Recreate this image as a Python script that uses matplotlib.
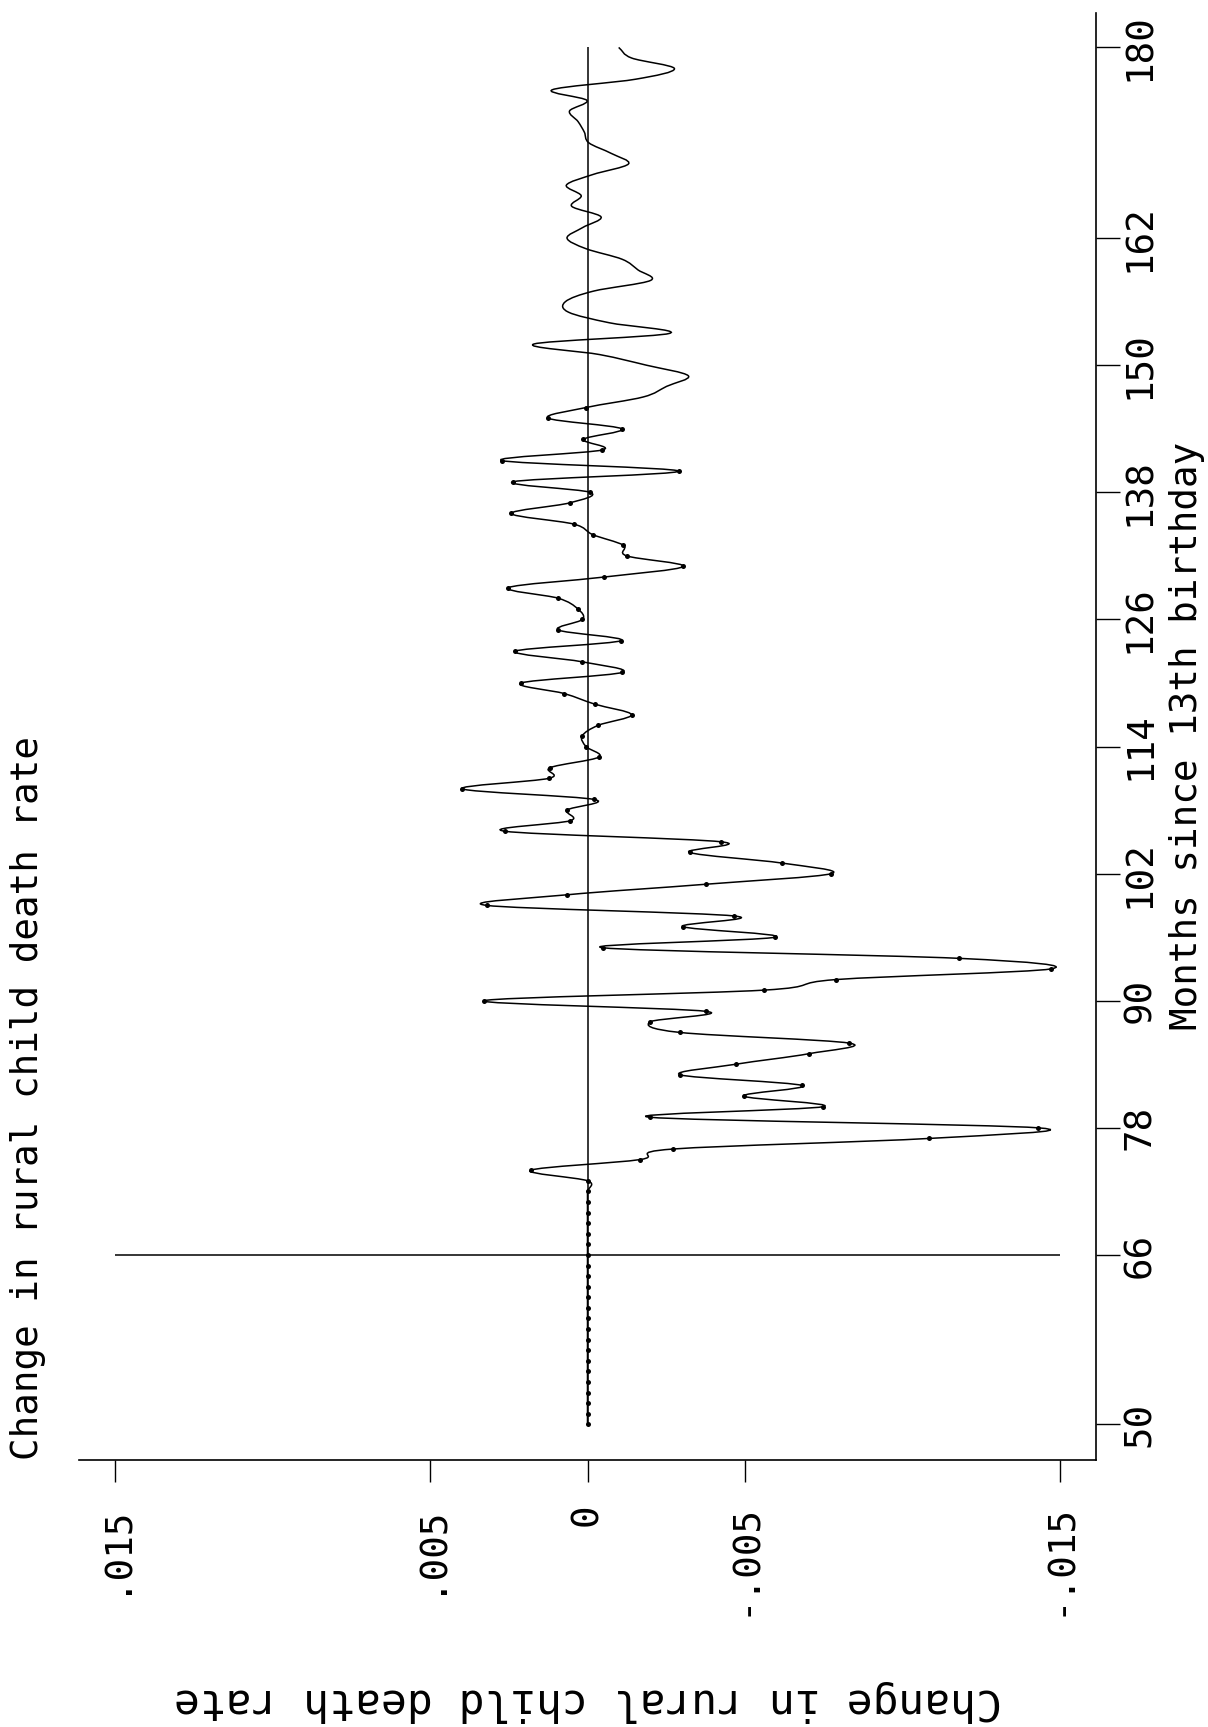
import numpy as np
import matplotlib
matplotlib.use("Agg")
import matplotlib.pyplot as plt
from matplotlib.path import Path
from matplotlib.patches import PathPatch

plt.rcParams['font.family'] = ['DejaVu Sans Mono', 'DejaVu Sans']

# months since 13th birthday, one value per month
months = list(range(50, 181))
rate = [
    # 50-59
    0, 0, 0, 0, 0, 0, 0, 0, 0, 0,
    # 60-69
    0, 0, 0, 0, 0, 0, 0, 0, 0, 0,
    # 70-79
    0, 0, 0, 0, 0.0018, -0.00166, -0.00272, -0.01085, -0.0143, -0.00198,
    # 80-89
    -0.00748, -0.00496, -0.0068, -0.00295, -0.0047, -0.00703, -0.0083, -0.00295, -0.00198, -0.00375,
    # 90-99
    0.00329, -0.0056, -0.0079, -0.0147, -0.0118, -0.00049, -0.00596, -0.00302, -0.00466, 0.0032,
    # 100-109
    0.00065, -0.00377, -0.00774, -0.00616, -0.00324, -0.00425, 0.00262, 0.00054, 0.00065, -0.00021,
    # 110-119
    0.00397, 0.00122, 0.00119, -0.00036, 0.00005, 0.00017, -0.00034, -0.0014, -0.00023, 0.00074,
    # 120-129
    0.0021, -0.0011, 0.00018, 0.00229, -0.00107, 0.00093, 0.00016, 0.00031, 0.00093, 0.00251,
    # 130-139
    -0.00053, -0.00304, -0.00124, -0.00114, -0.00017, 0.00044, 0.00242, 0.00057, -0.00008, 0.00235,
    # 140-149
    -0.00289, 0.00272, -0.00047, 0.00013, -0.00108, 0.00125, 0.00005, -0.00177, -0.00251, -0.0032,
    # 150-159
    -0.00187, -0.00039, 0.0017, -0.0026, -0.0007, 0.0006, 0.0007, -0.0002, -0.002, -0.0016,
    # 160-169
    -0.0011, 0.00005, 0.00065, 0.00015, -0.00043, 0.0005, 0.0002, 0.00067, -0.00017, -0.0013,
    # 170-180
    -0.00075, -0.00004, 0.0001, 0.0003, 0.00057, 0.00002, 0.00112, -0.00153, -0.00276, -0.0014, -0.00099,
]
last_marked = 146   # dots are drawn only up to this month

val_ticks = [0.015, 0.005, 0, -0.005, -0.015]
val_labels = ['.015', '.005', '0', '-.005', '-.015']
month_ticks = [50, 66, 78, 90, 102, 114, 126, 138, 150, 162, 180]
label = "Change in rural child death rate"

W, H = 1208, 1727
fig = plt.figure(figsize=(W / 100, H / 100), dpi=100)
ax = fig.add_axes([79 / W, (H - 1460) / H, (1096 - 79) / W, (1460 - 13) / H])

# smooth curve through the monthly values (cubic bezier, catmull-rom tangents)
m = np.array(months, dtype=float)
v = np.array(rate)
d = np.gradient(v, m)
verts = [(v[0], m[0])]
codes = [Path.MOVETO]
for i in range(len(m) - 1):
    h = m[i + 1] - m[i]
    verts += [(v[i] + d[i] * h / 3, m[i] + h / 3),
              (v[i + 1] - d[i + 1] * h / 3, m[i + 1] - h / 3),
              (v[i + 1], m[i + 1])]
    codes += [Path.CURVE4] * 3
ax.add_patch(PathPatch(Path(verts, codes), fill=False, lw=1.1, ec='black'))

marked = m <= last_marked
ax.plot(v[marked], m[marked], 'o', color='black', ms=3.6, mew=0)

# reference lines
ax.vlines(0, months[0], months[-1], color='black', lw=1.1)
ax.hlines(66, val_ticks[-1], val_ticks[0], color='black', lw=1.1)

ax.set_xlim(0.01614, -0.01614)
ax.set_ylim(46.64, 183.25)

for s in ['top', 'left']:
    ax.spines[s].set_visible(False)
for s in ['bottom', 'right']:
    ax.spines[s].set_linewidth(1.2)

ax.set_xticks(val_ticks)
ax.set_xticklabels(val_labels, rotation=90, fontsize=27)
ax.yaxis.tick_right()
ax.set_yticks(month_ticks)
ax.set_yticklabels([str(t) for t in month_ticks], rotation=90, fontsize=27, va='center')
ax.tick_params(axis='x', direction='out', length=16, width=1.0, pad=15)
ax.tick_params(axis='y', direction='out', length=17, width=1.0, pad=2)

fig.text(10 / W, (H - 1460) / H, label, rotation=90, ha='left', va='bottom', fontsize=27)
fig.text(1187 / W, 1 - 736 / H, "Months since 13th birthday", rotation=90,
         ha='center', va='center', fontsize=27)
fig.text(587.5 / W, 1 - 1701 / H, label, rotation=180, ha='center', va='center', fontsize=31)

fig.savefig('out.png', dpi=100)
